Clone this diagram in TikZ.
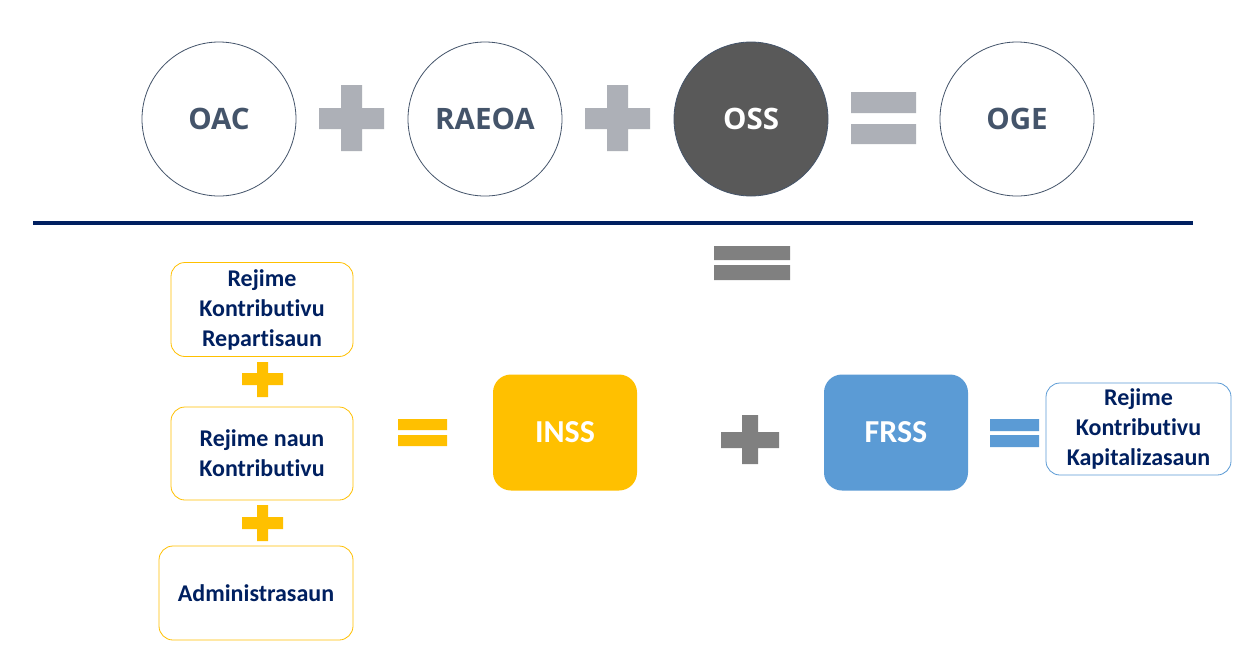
\documentclass[tikz,border=0pt]{standalone}
\usepackage{fontspec}
\setmainfont[Ligatures=NoCommon]{Carlito}
\newfontfamily\topfont{Open Sans}
\definecolor{slate}{HTML}{44546A}
\definecolor{navy}{HTML}{002060}
\definecolor{signgray}{HTML}{ADB0B7}
\definecolor{darkgray2}{HTML}{595959}
\definecolor{midgray}{HTML}{808080}
\definecolor{gold}{HTML}{FFC000}
\definecolor{skyblue}{HTML}{5B9BD5}
\begin{document}
\begin{tikzpicture}[x=1pt,y=-1pt,
  circ/.style={circle, minimum size=154pt, inner sep=0pt, draw=slate, line width=0.8pt,
    font=\topfont\bfseries\fontsize{29.5}{34}\selectfont, text=slate},
  ybox/.style={rectangle, rounded corners=14pt, draw=gold, line width=0.8pt, align=center,
    font=\bfseries\fontsize{24}{30}\selectfont, text=navy, inner sep=0pt},
  bbox/.style={ybox, draw=skyblue},
  fbox/.style={rectangle, rounded corners=18pt, inner sep=0pt, minimum width=144pt, minimum height=116pt,
    font=\bfseries\fontsize{32}{36}\selectfont, text=white}
]
\useasboundingbox[fill=white] (0,0) rectangle (1256,657);

% top row
\node[circ] (oac) at (219,119) {OAC};
\node[circ] (raeoa) at (485,119) {RAEOA};
\node[circ, fill=darkgray2, text=white] (oss) at (751,119) {OSS};
\node[circ] (oge) at (1017,119) {OGE};

% top signs
\fill[signgray] (341,85) rectangle (362,151) (319,108) rectangle (384,129);
\fill[signgray] (607,85) rectangle (628,151) (585,108) rectangle (650,129);
\fill[signgray] (851,92) rectangle (916,113) (851,124) rectangle (916,144);

% divider
\draw[navy, line width=4pt] (33,223) -- (1193,223);

% equals under line
\fill[midgray] (714,246) rectangle (790,260) (714,265) rectangle (790,280);

% left column
\node[ybox, minimum width=182pt, minimum height=94pt] (rkr) at (262,309.5) {Rejime\\Kontributivu\\Repartisaun};
\node[ybox, minimum width=182pt, minimum height=93pt] (rnk) at (262,453.5) {Rejime naun\\Kontributivu};
\node[ybox, minimum width=194pt, minimum height=94pt] (adm) at (256,593) {Administrasaun};

\fill[gold] (257,362) rectangle (268,397) (242,373) rectangle (283,385);
\fill[gold] (257,505) rectangle (268,541) (242,517) rectangle (283,529);
\fill[gold] (398,419) rectangle (447,430) (398,435) rectangle (447,446);

% INSS / FRSS
\node[fbox, fill=gold] (inss) at (565,432.5) {INSS};
\node[fbox, fill=skyblue] (frss) at (896,432.5) {FRSS};

\fill[midgray] (742,415) rectangle (758,464) (721,432) rectangle (779,448);
\fill[skyblue] (990,419) rectangle (1039,431) (990,435) rectangle (1039,447);

\node[bbox, minimum width=185pt, minimum height=92pt] (rkk) at (1138.5,429) {Rejime\\Kontributivu\\Kapitalizasaun};
\end{tikzpicture}
\end{document}
